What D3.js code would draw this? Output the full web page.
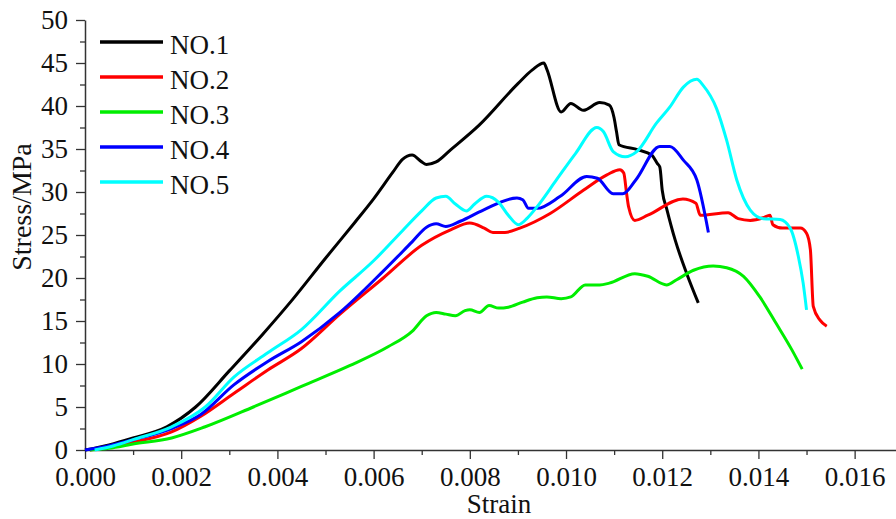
<!DOCTYPE html>
<html>
<head>
<meta charset="utf-8">
<script src="https://cdn.jsdelivr.net/npm/d3@7/dist/d3.min.js"></script>
<style>
  html, body { margin: 0; padding: 0; background: #fff; }
  svg { display: block; }
</style>
</head>
<body>
<svg id="chart" width="896" height="519"></svg>
<script>
// Stress–strain curves of five specimens: [strain, stress (MPa)]
const no1 = [[0,0],[0.0005,0.6],[0.0010,1.4],[0.0017,2.7],[0.0023,5.0],[0.0030,9.2],[0.0037,13.5],[0.0043,17.4],[0.0050,22.3],[0.0056,26.4],[0.0060,29.2],[0.0064,32.3],[0.0066,33.8],[0.0068,34.3],[0.0070,33.5],[0.0071,33.2],[0.0073,33.5],[0.0076,34.9],[0.0082,37.8],[0.0090,42.6],[0.0093,44.2],[0.00954,45.0],[0.0096,44.3],[0.0099,39.3],[0.0101,40.3],[0.01036,39.5],[0.0107,40.4],[0.0109,40.1],[0.0110,38.6],[0.01105,37.0],[0.0111,35.5],[0.0115,34.9],[0.01178,34.3],[0.0119,33.3],[0.01195,32.9],[0.0120,30.2],[0.0121,27.9],[0.01227,24.4],[0.01251,20.5],[0.01275,17.1]];
const no2 = [[0.0001,0],[0.0010,0.9],[0.0018,2.1],[0.0024,3.9],[0.0031,6.6],[0.0038,9.3],[0.0045,11.8],[0.0053,15.8],[0.0062,20.0],[0.0070,23.8],[0.0076,25.6],[0.0080,26.4],[0.0083,25.8],[0.00848,25.3],[0.00873,25.3],[0.00904,25.8],[0.00967,27.5],[0.01036,30.2],[0.01085,32.0],[0.01112,32.6],[0.0112,32.2],[0.01126,29.8],[0.0113,28.3],[0.01143,26.7],[0.0117,27.3],[0.01243,29.2],[0.0127,28.7],[0.01279,27.3],[0.01337,27.6],[0.01358,26.9],[0.01383,26.7],[0.0141,27.0],[0.01424,27.3],[0.0143,26.2],[0.0145,25.8],[0.01487,25.8],[0.0150,25.2],[0.01508,23.3],[0.01514,16.7],[0.01528,15.1],[0.01542,14.4]];
const no3 = [[0.0001,0],[0.0005,0.2],[0.0010,0.7],[0.0018,1.4],[0.0025,2.7],[0.0035,5.0],[0.0045,7.4],[0.0055,9.8],[0.0063,12.0],[0.0068,13.8],[0.0071,15.6],[0.0073,16.0],[0.0075,15.8],[0.0077,15.6],[0.0079,16.2],[0.0080,16.3],[0.0082,16.0],[0.0084,16.8],[0.0086,16.5],[0.0088,16.6],[0.0091,17.2],[0.0094,17.7],[0.0096,17.8],[0.0099,17.6],[0.0101,17.8],[0.0104,19.2],[0.0107,19.2],[0.0109,19.4],[0.01143,20.5],[0.0117,20.2],[0.01209,19.2],[0.0123,19.8],[0.01265,20.9],[0.01306,21.4],[0.01334,21.2],[0.01369,20.2],[0.01403,17.8],[0.01437,14.7],[0.01469,11.7],[0.01491,9.4]];
const no4 = [[0,0],[0.0005,0.5],[0.0010,1.2],[0.0018,2.5],[0.0024,4.1],[0.0031,7.6],[0.0038,10.3],[0.0045,12.6],[0.0053,16.0],[0.0062,20.8],[0.0068,24.2],[0.0071,25.9],[0.0073,26.3],[0.0075,26.0],[0.0078,26.6],[0.00828,27.9],[0.00898,29.3],[0.0091,29.1],[0.00922,28.1],[0.0094,28.1],[0.00988,29.5],[0.01043,31.8],[0.01065,31.6],[0.01098,29.8],[0.01118,29.8],[0.01145,31.4],[0.01195,35.3],[0.01216,35.3],[0.01244,33.7],[0.01272,31.4],[0.01296,25.3]];
const no5 = [[0.0002,0],[0.0006,0.5],[0.0010,1.2],[0.0018,2.7],[0.0025,5.0],[0.0031,8.5],[0.0038,11.3],[0.0045,14.0],[0.0053,18.5],[0.0060,22.0],[0.0066,25.5],[0.0070,27.8],[0.0073,29.3],[0.0075,29.5],[0.0077,28.6],[0.00793,27.8],[0.0081,28.6],[0.00835,29.5],[0.0086,28.8],[0.0088,27.3],[0.00901,26.2],[0.0092,27.0],[0.0094,28.3],[0.0098,31.4],[0.0102,34.5],[0.01064,37.5],[0.01078,37.0],[0.01098,34.7],[0.01123,34.1],[0.01147,34.7],[0.01188,38.0],[0.01216,39.9],[0.01244,42.2],[0.01272,43.1],[0.01285,42.4],[0.01313,39.7],[0.01334,36.0],[0.01355,31.4],[0.01383,27.9],[0.0141,26.9],[0.01445,26.8],[0.01466,25.8],[0.01483,22.5],[0.01493,19.4],[0.0150,16.3]];

const seriesNames = ["NO.1", "NO.2", "NO.3", "NO.4", "NO.5"];
const seriesColors = ["#000000", "#ff0000", "#00ee00", "#0000ff", "#00ffff"];
const seriesData = [no1, no2, no3, no4, no5];

const xTicks = [0, 0.002, 0.004, 0.006, 0.008, 0.010, 0.012, 0.014, 0.016];
const xMinorTicks = [0.001, 0.003, 0.005, 0.007, 0.009, 0.011, 0.013, 0.015];
const yTicks = [0, 5, 10, 15, 20, 25, 30, 35, 40, 45, 50];
const yMinorTicks = [2.5, 7.5, 12.5, 17.5, 22.5, 27.5, 32.5, 37.5, 42.5, 47.5];

const serifFont = '"Liberation Serif", "Times New Roman", Tinos, serif';

const svg = d3.select("#chart").style("font-family", serifFont);
const plot = { left: 85, right: 896, top: 20, bottom: 450 };

const x = d3.scaleLinear().domain([0, 0.01686]).range([plot.left, plot.right]);
const y = d3.scaleLinear().domain([0, 50]).range([plot.bottom, plot.top]);

const fontSize = 27;

// minor ticks
svg.append("g").attr("transform", `translate(0,${plot.bottom})`)
  .call(d3.axisBottom(x).tickValues(xMinorTicks).tickSize(5).tickFormat(""))
  .call(g => g.select(".domain").remove());
svg.append("g").attr("transform", `translate(${plot.left},0)`)
  .call(d3.axisLeft(y).tickValues(yMinorTicks).tickSize(5).tickFormat(""))
  .call(g => g.select(".domain").remove());

// major axes
const xAxis = svg.append("g").attr("transform", `translate(0,${plot.bottom})`)
  .call(d3.axisBottom(x).tickValues(xTicks).tickSize(9).tickSizeOuter(0).tickPadding(8).tickFormat(d3.format(".3f")));
const yAxis = svg.append("g").attr("transform", `translate(${plot.left},0)`)
  .call(d3.axisLeft(y).tickValues(yTicks).tickSize(9).tickSizeOuter(0).tickPadding(8).tickFormat(d3.format("d")));

svg.selectAll("g").attr("font-family", serifFont);
[xAxis, yAxis].forEach(g => {
  g.selectAll("text").attr("font-size", fontSize).attr("fill", "#111");
  g.select(".domain").attr("stroke", "#333").attr("stroke-width", 1.5);
});
svg.selectAll("g.tick line").attr("stroke", "#333").attr("stroke-width", 1.3);

// curves
const line = d3.line()
  .x(d => x(d[0]))
  .y(d => y(d[1]))
  .curve(d3.curveMonotoneX);

seriesData.forEach((data, i) => {
  svg.append("path")
    .datum(data)
    .attr("fill", "none")
    .attr("stroke", seriesColors[i])
    .attr("stroke-width", 3)
    .attr("stroke-linejoin", "round")
    .attr("d", line);
});

// axis titles
svg.append("text")
  .attr("x", 499).attr("y", 513)
  .attr("text-anchor", "middle")
  .attr("font-size", 27)
  .attr("fill", "#111")
  .text("Strain");

svg.append("text")
  .attr("transform", "translate(31,207) rotate(-90)")
  .attr("text-anchor", "middle")
  .attr("font-size", 28)
  .attr("fill", "#111")
  .text("Stress/MPa");

// legend
const legend = svg.append("g");
seriesNames.forEach((name, i) => {
  const ly = 42 + i * 35;
  legend.append("line")
    .attr("x1", 100).attr("x2", 163)
    .attr("y1", ly).attr("y2", ly)
    .attr("stroke", seriesColors[i])
    .attr("stroke-width", 3.5);
  legend.append("text")
    .attr("x", 170).attr("y", ly + 11.5)
    .attr("font-size", 27)
    .attr("fill", "#111")
    .text(name);
});
</script>
</body>
</html>
